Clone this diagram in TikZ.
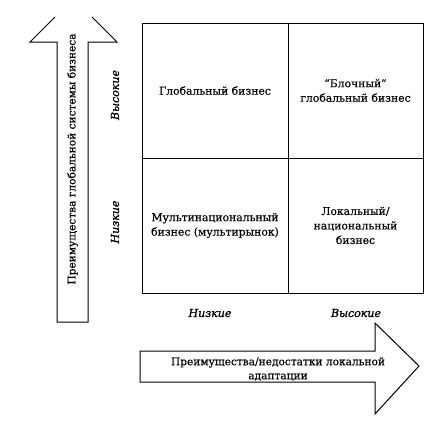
\documentclass[tikz,border=0pt]{standalone}
\usepackage{fontspec}
\setmainfont{DejaVu Serif}[FakeBold=0.4]
\newfontfamily\lblfont{DejaVu Serif}[UprightFont=* Italic, FakeBold=1.2]
\begin{document}
\begin{tikzpicture}[x=1pt,y=-1pt,
  cell/.style={draw,line width=1pt,inner sep=0pt,align=center,font=\fontsize{10.8}{14.5}\selectfont},
  lbl/.style={font=\lblfont\fontsize{11}{14}\selectfont},
  txt/.style={align=center,font=\fontsize{10.6}{14}\selectfont}]
\useasboundingbox (0,0) rectangle (430,421);
% grid cells
\node[cell,minimum width=146pt,minimum height=135pt] (tl) at (215,90.5) {Глобальный бизнес};
\node[cell,minimum width=135pt,minimum height=135pt] (tr) at (355.5,90.5) {“Блочный”\\глобальный бизнес};
\node[cell,minimum width=146pt,minimum height=135pt] (bl) at (215,225.5) {Мультинациональный\\бизнес (мультирынок)};
\node[cell,minimum width=135pt,minimum height=135pt] (br) at (355.5,225.5) {Локальный/\\национальный\\бизнес};
% vertical arrow
\draw[line width=1pt] (55,17) -- (30,42) -- (57,42) -- (57,322) -- (88,322) -- (88,42) -- (117,42) -- (92,17);
\node[txt,rotate=90] (vtext) at (72.5,159) {Преимущества глобальной системы бизнеса};
% horizontal arrow
\draw[line width=1pt] (140,351) -- (375,351) -- (375,323) -- (419,366) -- (375,414) -- (375,382) -- (140,382) -- cycle;
\node[txt] (htext) at (278,369) {Преимущества/недостатки локальной\\адаптации};
% axis labels
\node[lbl,rotate=90] (vhigh) at (115,95) {Высокие};
\node[lbl,rotate=90] (vlow) at (115,222) {Низкие};
\node[lbl] (hlow) at (210,313) {Низкие};
\node[lbl] (hhigh) at (356,313) {Высокие};
\end{tikzpicture}
\end{document}
